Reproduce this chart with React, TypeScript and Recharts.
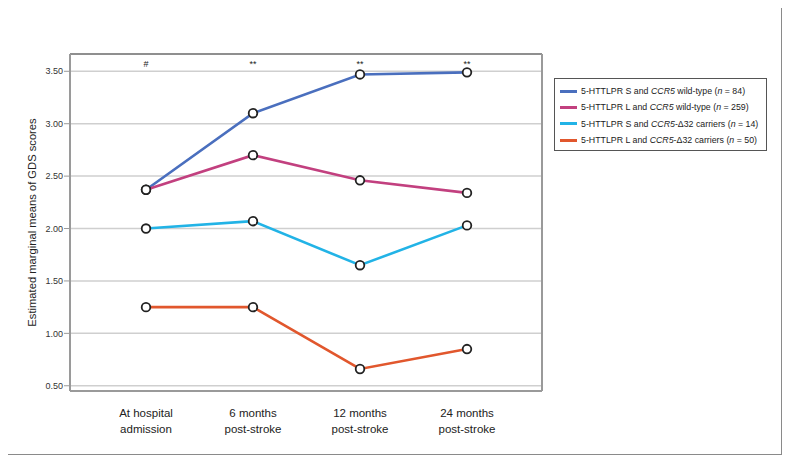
import {
  LineChart,
  Line,
  XAxis,
  YAxis,
  CartesianGrid,
  Label,
} from "recharts";

const timepoints = [
  "At hospital\nadmission",
  "6 months\npost-stroke",
  "12 months\npost-stroke",
  "24 months\npost-stroke",
];
const significance = ["#", "**", "**", "**"];

const sWildType = [2.37, 3.1, 3.47, 3.49];
const lWildType = [2.37, 2.7, 2.46, 2.34];
const sDelta32 = [2.0, 2.07, 1.65, 2.03];
const lDelta32 = [1.25, 1.25, 0.66, 0.85];

const yTicks = [0.5, 1.0, 1.5, 2.0, 2.5, 3.0, 3.5];

const series = [
  { key: "sWild", values: sWildType, color: "#4a6fbe", allele: "S", gene: "wild-type", n: 84 },
  { key: "lWild", values: lWildType, color: "#c2407f", allele: "L", gene: "wild-type", n: 259 },
  { key: "sDelta", values: sDelta32, color: "#22b3e6", allele: "S", gene: "-\u039432 carriers", n: 14 },
  { key: "lDelta", values: lDelta32, color: "#e1572d", allele: "L", gene: "-\u039432 carriers", n: 50 },
];

const data = timepoints.map((t, i) => {
  const row: any = { time: t, sig: significance[i] };
  series.forEach((s) => (row[s.key] = s.values[i]));
  return row;
});

const font = "'Liberation Sans', Arial, sans-serif";

function BottomTick(props: any) {
  const { x, y, payload } = props;
  const lines = String(payload.value).split("\n");
  return (
    <text x={x} y={y + 18} textAnchor="middle" fontSize={11.5} fill="#222" fontFamily={font}>
      {lines.map((l, i) => (
        <tspan key={i} x={x} dy={i === 0 ? 0 : 15.5}>
          {l}
        </tspan>
      ))}
    </text>
  );
}

function SigTick(props: any) {
  const { x, y, payload } = props;
  const row = data.find((d) => d.time === payload.value);
  return (
    <text x={x} y={y + 21} textAnchor="middle" fontSize={9} fill="#222" fontFamily={font}>
      {row ? row.sig : ""}
    </text>
  );
}

function Dot(props: any) {
  const { cx, cy } = props;
  if (cx == null || cy == null) return null;
  return <circle cx={cx} cy={cy} r={4.3} fill="#fff" stroke="#222" strokeWidth={1.8} />;
}

export default function App() {
  return (
    <div
      style={{
        position: "relative",
        width: 776,
        height: 449,
        margin: "-2px 0 0 -2px",
        fontFamily: font,
      }}
    >
      <div
        style={{
          position: "absolute",
          inset: 0,
          border: "1.5px solid #8a8a8a",
          pointerEvents: "none",
        }}
      />
      <LineChart
        width={776}
        height={449}
        data={data}
        margin={{ top: 47, right: 239, bottom: 4, left: 0 }}
      >
        <CartesianGrid vertical={false} stroke="#cfcfcf" strokeWidth={1.5} />
        <XAxis
          dataKey="time"
          height={60}
          padding={{ left: 76, right: 75 }}
          axisLine={{ stroke: "#9a9a9a", strokeWidth: 2 }}
          tickLine={false}
          tick={<BottomTick />}
          interval={0}
        />
        <XAxis
          xAxisId="top"
          dataKey="time"
          orientation="top"
          height={1}
          padding={{ left: 76, right: 75 }}
          axisLine={{ stroke: "#444", strokeWidth: 1.2 }}
          tickLine={false}
          tick={<SigTick />}
          interval={0}
        />
        <YAxis
          width={64}
          domain={[0.45, 3.665]}
          ticks={yTicks}
          allowDataOverflow
          tickFormatter={(v: number) => v.toFixed(2)}
          tick={{ fontSize: 9, fill: "#333", fontFamily: font }}
          tickSize={6}
          tickMargin={1}
          axisLine={{ stroke: "#9a9a9a", strokeWidth: 2 }}
          tickLine={{ stroke: "#9a9a9a" }}
        >
          <Label
            value="Estimated marginal means of GDS scores"
            angle={-90}
            position="insideLeft"
            offset={26}
            style={{ textAnchor: "middle", fontSize: 11.2, fill: "#222", fontFamily: font }}
          />
        </YAxis>
        <YAxis
          yAxisId="right"
          orientation="right"
          width={1}
          domain={[0.45, 3.665]}
          tick={false}
          tickLine={false}
          axisLine={{ stroke: "#9a9a9a", strokeWidth: 2 }}
        />
        {series.map((s) => (
          <Line
            key={s.key}
            dataKey={s.key}
            stroke={s.color}
            strokeWidth={2.6}
            dot={<Dot />}
            activeDot={false}
            isAnimationActive={false}
          />
        ))}
      </LineChart>
      <div
        style={{
          position: "absolute",
          left: 548,
          top: 72,
          width: 213,
          height: 73,
          border: "1px solid #555",
          boxSizing: "border-box",
          padding: "4px 0 0 5px",
          fontSize: 8.8,
          color: "#222",
        }}
      >
        {series.map((s) => (
          <div key={s.key} style={{ display: "flex", alignItems: "center", height: 16.3 }}>
            <span
              style={{
                display: "inline-block",
                flexShrink: 0,
                width: 17,
                height: 3,
                background: s.color,
                marginRight: 4,
              }}
            />
            <span style={{ whiteSpace: "nowrap" }}>
              5-HTTLPR {s.allele} and <i>CCR5</i>
              {s.gene.startsWith("-") ? s.gene : " " + s.gene} (<i>n</i> = {s.n})
            </span>
          </div>
        ))}
      </div>
    </div>
  );
}
